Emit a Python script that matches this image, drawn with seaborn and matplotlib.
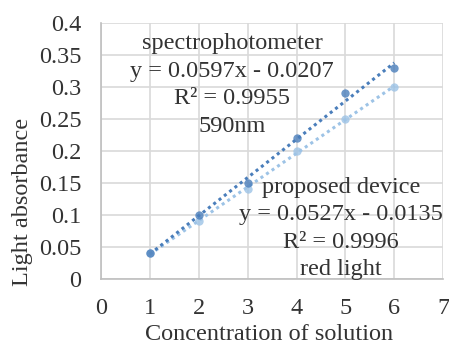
import matplotlib
matplotlib.use("Agg")
import matplotlib.pyplot as plt
import seaborn as sns
import pandas as pd

# Absorbance readings for six concentration levels
concentration = [1, 2, 3, 4, 5, 6]
spectro_abs = [0.04, 0.10, 0.15, 0.22, 0.29, 0.33]
device_abs = [0.04, 0.09, 0.14, 0.20, 0.25, 0.30]

spectro_label = "spectrophotometer\ny = 0.0597x - 0.0207\nR² = 0.9955\n590nm"
device_label = "proposed device\ny = 0.0527x - 0.0135\nR² = 0.9996\nred light"

x_ticks = [0, 1, 2, 3, 4, 5, 6, 7]
y_ticks = [0, 0.05, 0.1, 0.15, 0.2, 0.25, 0.3, 0.35, 0.4]
y_tick_labels = ["0", "0.05", "0.1", "0.15", "0.2", "0.25", "0.3", "0.35", "0.4"]

df = pd.DataFrame({"conc": concentration, "spectro": spectro_abs, "device": device_abs})

sns.set_style("white")
plt.rcParams["font.family"] = ["Liberation Serif", "DejaVu Serif"]

fig = plt.figure(figsize=(4.49, 3.47), dpi=100)
ax = fig.add_axes([0.225, 0.196, 0.762, 0.738])

dark = "#4a7ebb"
light = "#9dc3e6"
text_color = "#333333"

sns.regplot(data=df, x="conc", y="device", ax=ax, ci=None, color=light,
            scatter_kws=dict(s=36, linewidths=0, zorder=3),
            line_kws=dict(linestyle=(0, (1, 1.2)), linewidth=2.2, zorder=2))
sns.regplot(data=df, x="conc", y="spectro", ax=ax, ci=None, color=dark,
            scatter_kws=dict(s=36, linewidths=0, zorder=4),
            line_kws=dict(linestyle=(0, (1, 1.2)), linewidth=2.2, zorder=2))

ax.set_xlim(0, 7)
ax.set_ylim(0, 0.4)
ax.set_xticks(x_ticks)
ax.set_xticklabels([str(t) for t in x_ticks])
ax.set_yticks(y_ticks)
ax.set_yticklabels(y_tick_labels)
ax.grid(True, color="#d9d9d9", linewidth=1.2)
ax.set_axisbelow(True)
for side in ("top", "right"):
    ax.spines[side].set_visible(False)
for side in ("left", "bottom"):
    ax.spines[side].set_color("#bfbfbf")
    ax.spines[side].set_linewidth(1.2)
ax.tick_params(axis="both", length=0, labelsize=17.5, colors=text_color)
ax.tick_params(axis="y", pad=14)
ax.tick_params(axis="x", pad=14)

ax.set_xlabel("Concentration of solution", fontsize=17.5, color=text_color)
ax.set_ylabel("Light absorbance", fontsize=17.5, color=text_color)
ax.xaxis.set_label_coords(0.49, -0.175)
ax.yaxis.set_label_coords(-0.20, 0.3)

ax.text(2.68, 0.303, spectro_label, ha="center", va="center", fontsize=17.5,
        color=text_color, linespacing=1.4)
ax.text(4.91, 0.079, device_label, ha="center", va="center", fontsize=17.5,
        color=text_color, linespacing=1.4)

fig.savefig("out.png", dpi=100)
